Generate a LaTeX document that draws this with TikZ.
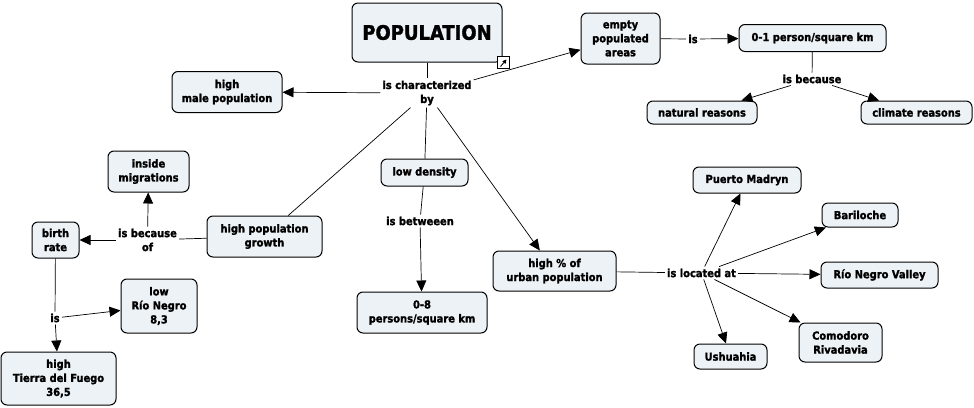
\documentclass[tikz,border=0pt]{standalone}
\usepackage{fontspec}
\setmainfont{DejaVu Sans Condensed}[BoldFeatures={FakeBold=1.6}]
\usetikzlibrary{arrows.meta}
\definecolor{boxfill}{RGB}{236,242,245}
\tikzset{
  concept/.style={draw=black, line width=1pt, rounded corners=6pt, fill=boxfill,
    align=center, font=\bfseries\fontsize{11}{14}\selectfont, inner sep=1pt},
  linkph/.style={align=center, font=\bfseries\fontsize{11}{14}\selectfont, inner sep=2pt},
  conn/.style={line width=0.7pt},
  arr/.style={conn, -{Triangle[length=11pt,width=10pt]}},
}
\begin{document}
\begin{tikzpicture}[x=1pt,y=-1pt]
\useasboundingbox (0,0) rectangle (974,407);
% concepts
\node[concept, minimum width=150pt, minimum height=59pt,
  font=\bfseries\fontsize{20}{22}\selectfont] (pop) at (427,32.5) {POPULATION};
\node[concept, minimum width=110pt, minimum height=41pt] (male) at (227,92) {high\\male population};
\node[concept, minimum width=79pt, minimum height=51pt] (empty) at (620.5,38.5) {empty\\populated\\areas};
\node[concept, minimum width=147pt, minimum height=27pt] (zero) at (812.5,38) {0-1 person/square km};
\node[concept, minimum width=110pt, minimum height=23pt] (natural) at (702,112.5) {natural reasons};
\node[concept, minimum width=111pt, minimum height=23pt] (climate) at (916.5,112.5) {climate reasons};
\node[concept, minimum width=87pt, minimum height=27pt] (lowd) at (424.5,172.5) {low density};
\node[concept, minimum width=130pt, minimum height=41pt] (zeroeight) at (422,312.5) {0-8\\persons/square km};
\node[concept, minimum width=123pt, minimum height=40pt] (urban) at (554.5,271) {high \% of\\urban population};
\node[concept, minimum width=108pt, minimum height=26pt] (madryn) at (747,180) {Puerto Madryn};
\node[concept, minimum width=76pt, minimum height=24pt] (bariloche) at (860,215) {Bariloche};
\node[concept, minimum width=117pt, minimum height=26pt] (valley) at (879.5,275) {Río Negro Valley};
\node[concept, minimum width=83pt, minimum height=39pt] (comodoro) at (840.5,342.5) {Comodoro\\Rivadavia};
\node[concept, minimum width=73pt, minimum height=25pt] (ushuaia) at (730.5,356.5) {Ushuahia};
\node[concept, minimum width=81pt, minimum height=41pt] (inside) at (148.5,171.5) {inside\\migrations};
\node[concept, minimum width=47pt, minimum height=36pt] (birth) at (55.5,240) {birth\\rate};
\node[concept, minimum width=115pt, minimum height=41pt] (growth) at (264.5,236.5) {high population\\growth};
\node[concept, minimum width=76pt, minimum height=54pt] (lowrn) at (159,306) {low\\Río Negro\\8,3};
\node[concept, minimum width=115pt, minimum height=53pt] (tierra) at (58.5,378.5) {high\\Tierra del Fuego\\36,5};
% icon on POPULATION
\draw[line width=0.6pt, fill=white] ([shift={(-5,-6)}]pop.south east) rectangle ([shift={(7,6)}]pop.south east);
\draw[line width=0.9pt, -{Triangle[length=4pt,width=4pt]}] ([shift={(-2,4)}]pop.south east) -- ([shift={(4,-3)}]pop.south east);
% linking phrases
\node[linkph] (char) at (427,93) {is characterized\\by};
\node[linkph] (is1) at (693,39) {is};
\node[linkph] (because) at (812,79) {is because};
\node[linkph] (between) at (420,221) {is betweeen};
\node[linkph] (located) at (701.5,273) {is located at};
\node[linkph] (becauseof) at (147.5,240) {is because\\of};
\node[linkph] (is2) at (55,318) {is};
% connectors
\draw[conn] (pop) -- (char);
\draw[arr] (char) -- (male);
\draw[arr] (char) -- (empty);
\draw[conn] (char) -- (growth);
\draw[conn] (char) -- (lowd);
\draw[arr] (char) -- (urban);
\draw[conn] (empty) -- (is1);
\draw[arr] (is1) -- (zero);
\draw[conn] (zero) -- (because);
\draw[arr] (because) -- (natural);
\draw[arr] (because) -- (climate);
\draw[conn] (lowd) -- (between);
\draw[arr] (between) -- (zeroeight);
\draw[conn] (urban) -- (located);
\draw[arr] (located) -- (madryn);
\draw[arr] (located) -- (bariloche);
\draw[arr] (located) -- (valley);
\draw[arr] (located) -- (comodoro);
\draw[arr] (located) -- (ushuaia);
\draw[conn] (growth) -- (becauseof);
\draw[arr] (becauseof) -- (birth);
\draw[arr] (becauseof) -- (inside);
\draw[conn] (birth) -- (is2);
\draw[arr] (is2) -- (tierra);
\draw[arr] (is2) -- (lowrn);
\end{tikzpicture}
\end{document}
